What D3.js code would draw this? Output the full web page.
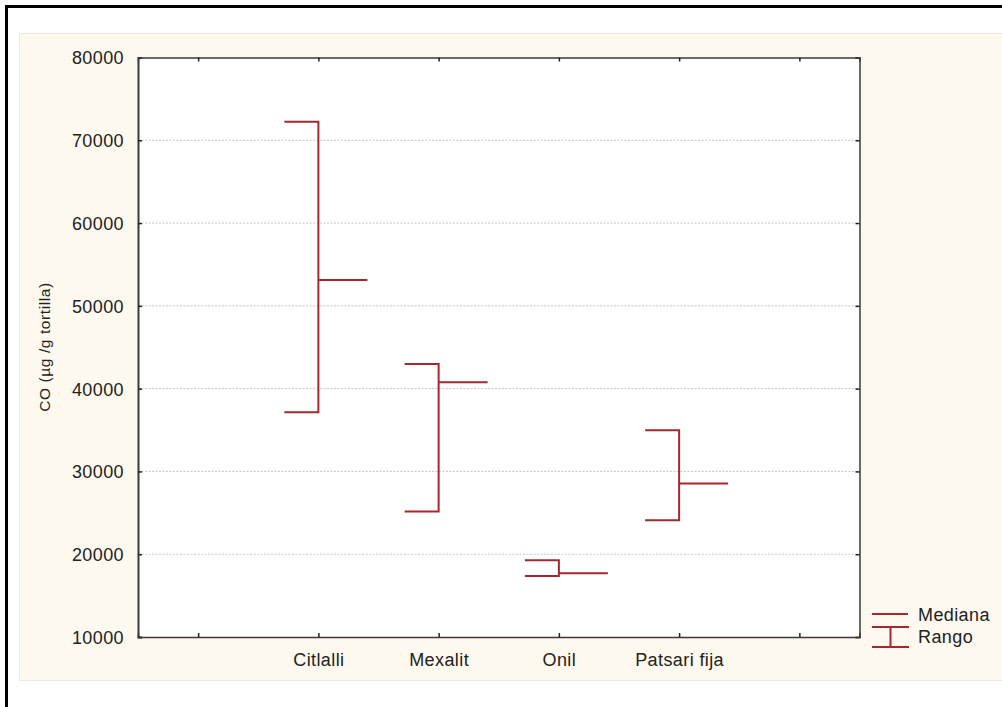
<!DOCTYPE html>
<html>
<head>
<meta charset="utf-8">
<script src="https://cdn.jsdelivr.net/npm/d3@7"></script>
<style>
 body { margin: 0; background: #fff; }
 text { font-family: "Liberation Sans", Arial, sans-serif; fill: #222; }
</style>
</head>
<body>
<svg width="1002" height="707"></svg>
<script>
var svg = d3.select("svg"),
 width = +svg.attr("width"),
 height = +svg.attr("height");

// data
var categories = ["Citlalli", "Mexalit", "Onil", "Patsari fija"];
var rangeMax = [72250, 42980, 19280, 34980];
var rangeMin = [37150, 25150, 17380, 24100];
var medians = [53130, 40770, 17700, 28530];
var yTicks = [10000, 20000, 30000, 40000, 50000, 60000, 70000, 80000];
var legendLabels = ["Mediana", "Rango"];

var markColor = "#a5282f";

// outer frame and cream panel
svg.append("rect")
 .attr("x", 6.5).attr("y", 6.5)
 .attr("width", width + 20).attr("height", height + 20)
 .attr("fill", "#fff")
 .attr("stroke", "#000")
 .attr("stroke-width", 3);

svg.append("rect")
 .attr("x", 19.5).attr("y", 33.5)
 .attr("width", width).attr("height", 647)
 .attr("fill", "#fdf9ef")
 .attr("stroke", "#ece9e0")
 .attr("stroke-width", 1);

var plot = { left: 138, right: 859.5, top: 57.5, bottom: 637 };

// slots 0 and 5 are empty, as in the original
var x = d3.scalePoint()
 .domain(d3.range(6))
 .range([plot.left, plot.right])
 .padding(0.5);

var y = d3.scaleLinear()
 .domain([10000, 80000])
 .range([plot.bottom, plot.top]);

svg.append("rect")
 .attr("x", plot.left).attr("y", plot.top)
 .attr("width", plot.right - plot.left).attr("height", plot.bottom - plot.top)
 .attr("fill", "#fff");

// dotted grid
svg.append("g").selectAll("line")
 .data(yTicks.slice(1, -1))
 .enter().append("line")
 .attr("x1", plot.left).attr("x2", plot.right)
 .attr("y1", function(d) { return y(d); })
 .attr("y2", function(d) { return y(d); })
 .attr("stroke", "#c4c4c4")
 .attr("stroke-dasharray", "2,1.5");

// axes, ticks pointing inwards
var axLeft = svg.append("g")
 .attr("transform", "translate(" + plot.left + ",0)")
 .call(d3.axisLeft(y).tickValues(yTicks).tickSize(-4).tickPadding(14).tickFormat(d3.format("d")));

var axRight = svg.append("g")
 .attr("transform", "translate(" + plot.right + ",0)")
 .call(d3.axisRight(y).tickValues(yTicks).tickSize(-4).tickFormat(""));

var axBottom = svg.append("g")
 .attr("transform", "translate(0," + plot.bottom + ")")
 .call(d3.axisBottom(x).tickSize(-4).tickPadding(16)
   .tickFormat(function(i) { return categories[i - 1] || ""; }));

var axTop = svg.append("g")
 .attr("transform", "translate(0," + plot.top + ")")
 .call(d3.axisTop(x).tickSize(-4).tickFormat(""));

[axLeft, axRight, axBottom, axTop].forEach(function(a) {
 a.select(".domain").attr("stroke", "#3a3a3a").attr("stroke-width", 1.5);
 a.selectAll(".tick line").attr("stroke", "#222").attr("stroke-width", 1.5);
 a.selectAll("text")
   .attr("font-size", 18)
   .attr("letter-spacing", 0.4)
   .attr("font-family", "Liberation Sans, Arial, sans-serif")
   .attr("fill", "#222");
});
axLeft.select(".domain").attr("stroke-width", 2);
axLeft.selectAll(".tick text").attr("dy", "0.36em");

// y label
svg.append("text")
 .attr("transform", "translate(50,347) rotate(-90)")
 .attr("text-anchor", "middle")
 .attr("font-size", 15.5)
 .attr("letter-spacing", 0.6)
 .text("CO (\u00b5g /g tortilla)");

// range brackets and medians
var marks = svg.append("g")
 .attr("fill", "none")
 .attr("stroke", markColor)
 .attr("stroke-width", 2);

categories.forEach(function(c, i) {
 var cx = x(i + 1);
 marks.append("path")
   .attr("d", "M" + (cx - 34) + "," + y(rangeMax[i]) +
     "H" + cx + "V" + y(rangeMin[i]) + "H" + (cx - 34));
 marks.append("line")
   .attr("x1", cx).attr("x2", cx + 49)
   .attr("y1", y(medians[i])).attr("y2", y(medians[i]));
});

// legend
var lg = svg.append("g").attr("transform", "translate(872,614)");
lg.append("line")
 .attr("x1", 0).attr("x2", 36).attr("y1", 0).attr("y2", 0)
 .attr("stroke", markColor).attr("stroke-width", 2);
lg.append("path")
 .attr("d", "M0,13H37M18.5,13V33M0,33H37")
 .attr("fill", "none")
 .attr("stroke", markColor).attr("stroke-width", 2);
lg.selectAll("text.leg")
 .data(legendLabels)
 .enter().append("text")
 .attr("class", "leg")
 .attr("x", 46)
 .attr("y", function(d, i) { return 7 + i * 22; })
 .attr("font-size", 18)
 .attr("letter-spacing", 0.4)
 .text(function(d) { return d; });
</script>
</body>
</html>
